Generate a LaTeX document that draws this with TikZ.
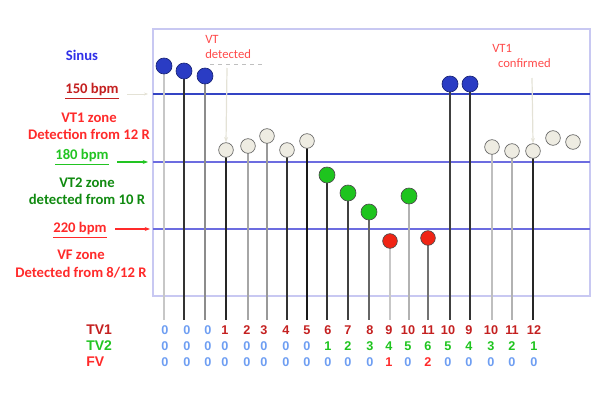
\documentclass[tikz,border=0pt]{standalone}
\usepackage{fontspec}
\setmainfont{Carlito}
\newfontfamily\arialfont{Liberation Sans}
\usetikzlibrary{arrows.meta}

\definecolor{framecol}{HTML}{C8C8F2}
\definecolor{lineone}{HTML}{3444C4}
\definecolor{linetwo}{HTML}{6C6CE0}
\definecolor{sinusblue}{HTML}{2A3CC4}
\definecolor{vtbeige}{HTML}{EEECE2}
\definecolor{vtgreen}{HTML}{1EC41E}
\definecolor{vfred}{HTML}{F02414}
\definecolor{darkred}{HTML}{C42020}
\definecolor{zoneblue}{HTML}{3030E8}
\definecolor{zonered}{HTML}{FF2A2A}
\definecolor{zonegreen}{HTML}{108A10}
\definecolor{bpmgreen}{HTML}{22C422}
\definecolor{zeroblue}{HTML}{6E9EF2}
\definecolor{notered}{HTML}{FF4A4A}
\definecolor{hintgray}{HTML}{E4E2D6}

\newcommand{\valcol}[2]{\ifnum#1=0 \textcolor{zeroblue}{#1}\else\textcolor{#2}{#1}\fi}

\tikzset{
  beat/.style={circle, draw=black!75, line width=0.5pt, inner sep=0pt, minimum size=12pt},
  sinus/.style={beat, fill=sinusblue, draw=sinusblue!60!black},
  vt/.style={beat, fill=vtbeige, draw=black!60, minimum size=11pt},
  vtb/.style={beat, fill=vtgreen, draw=black!70},
  vf/.style={beat, fill=vfred, draw=black!70, minimum size=11pt},
  zonetxt/.style={font=\bfseries\fontsize{11}{13}\selectfont, align=center},
  bpm/.style={font=\bfseries\fontsize{11}{13}\selectfont},
  note/.style={font=\fontsize{9.5}{11.5}\selectfont, text=notered, align=left, inner sep=0pt, anchor=west},
  tablbl/.style={font=\arialfont\bfseries\fontsize{10.5}{12}\selectfont, anchor=west, inner sep=0pt},
  tabval/.style={font=\arialfont\bfseries\fontsize{9.5}{11}\selectfont, inner sep=0pt}
}

\begin{document}
\begin{tikzpicture}[x=0.75pt, y=-0.75pt]
\useasboundingbox (0,0) rectangle (605,399);

% frame and thresholds
\draw[framecol, line width=0.8pt] (153,29) rectangle (590,296);
\draw[lineone, line width=0.9pt] (153,94) -- (590,94);
\draw[linetwo, line width=0.9pt] (153,162) -- (590,162);
\draw[linetwo, line width=0.9pt] (153,229) -- (590,229);

% zone labels
\node[zonetxt, text=zoneblue] (sinus) at (82,55) {Sinus};
\node[bpm, text=darkred] (bpmA) at (92,91) {\underline{150 bpm}};
\node[zonetxt, text=zonered] (vtone) at (89,126) {VT1 zone\\Detection from 12 R};
\node[bpm, text=bpmgreen] (bpmB) at (82,157) {\underline{180 bpm}};
\node[zonetxt, text=zonegreen] (vttwo) at (87,191) {VT2 zone\\detected from 10 R};
\node[bpm, text=zonered] (bpmC) at (80,230) {\underline{220 bpm}};
\node[zonetxt, text=zonered] (vfz) at (81,264) {VF zone\\Detected from 8/12 R};

\coordinate (pA) at (148,94);
\coordinate (pB) at (148,162);
\coordinate (pC) at (150,229);
\draw[hintgray, -{Stealth[length=3pt]}] (bpmA.east |- pA) ++(4,0) -- (pA);
\draw[bpmgreen, thick, -{Stealth[length=4pt]}] (bpmB.east |- pB) ++(4,0) -- (pB);
\draw[zonered, thick, -{Stealth[length=4pt]}] (bpmC.east |- pC) ++(4,0) -- (pC);

% beats with stems
\foreach \i/\x/\y/\kind/\stem in {
  1/164/66/sinus/black!22, 2/184/71/sinus/black!80, 3/205/76/sinus/black!45,
  4/226/150/vt/black!85, 5/248/146/vt/black!35, 6/267/136/vt/black!40,
  7/287/150/vt/black!80, 8/307/141/vt/black!90,
  9/327/175/vtb/black!80, 10/348/193/vtb/black!75, 11/369/212/vtb/black!60,
  12/390/241/vf/black!22, 13/409/196/vtb/black!30, 14/428/238/vf/black!55,
  15/450/84/sinus/black!75, 16/470/84/sinus/black!80,
  17/492/147/vt/black!25, 18/512/151/vt/black!30, 19/533/151/vt/black!85} {
  \coordinate (e\i) at (\x,320);
  \draw[\stem, line width=0.8pt] (\x,\y) -- (e\i);
  \node[\kind] (b\i) at (\x,\y) {};
}
\node[vt] (b20) at (553,138) {};
\node[vt] (b21) at (573,142) {};

% notes
\node[note] (vtdet) at (205,47) {VT\\detected};
\draw[black!25, dashed] (210,64) -- (265,64);
\coordinate (vtdetA) at (227,68);
\draw[hintgray, line width=0.9pt, -{Stealth[length=4pt]}] (vtdetA) -- (b4.north);
\node[note] (vtconf) at (492,56) {VT1\\\ \ confirmed};
\coordinate (vtconfA) at (532,78);
\draw[hintgray, line width=0.9pt, -{Stealth[length=4pt]}] (vtconfA) -- (b19.north);

% counters
\node[tablbl, text=darkred] (tvone) at (86,330) {TV1};
\node[tablbl, text=bpmgreen] (tvtwo) at (86,346) {TV2};
\node[tablbl, text=zonered] (fv) at (86,362) {FV};
\foreach \x/\a/\b/\c [count=\i] in {
  165/0/0/0, 187/0/0/0, 208/0/0/0, 225/1/0/0, 247/2/0/0, 264/3/0/0,
  286/4/0/0, 307/5/0/0, 328/6/1/0, 348/7/2/0, 370/8/3/0, 389/9/4/1,
  408/10/5/0, 428/11/6/2, 448/10/5/0, 469/9/4/0, 491/10/3/0, 512/11/2/0, 534/12/1/0} {
  \node[tabval] (t\i) at (\x,330) {\valcol{\a}{darkred}};
  \node[tabval] (u\i) at (\x,346) {\valcol{\b}{vtgreen}};
  \node[tabval] (f\i) at (\x,362) {\valcol{\c}{zonered}};
}
\end{tikzpicture}
\end{document}
